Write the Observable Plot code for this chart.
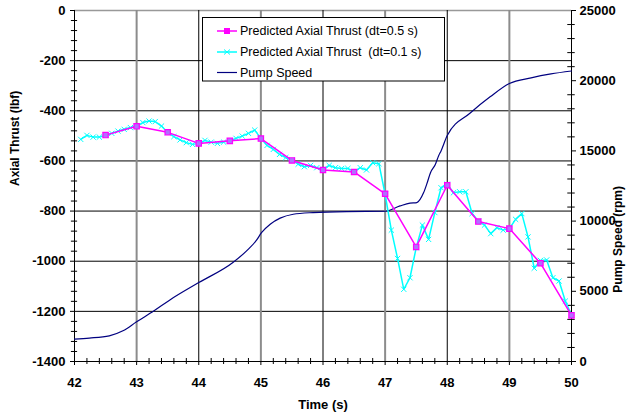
<!DOCTYPE html>
<html>
<head>
<meta charset="utf-8">
<script src="https://cdn.jsdelivr.net/npm/d3@7"></script>
<script src="https://cdn.jsdelivr.net/npm/@observablehq/plot@0.6"></script>
<style>
  html, body { margin: 0; padding: 0; background: #fff; }
  #chart { width: 630px; height: 419px; }
</style>
</head>
<body>
<div id="chart"></div>
<script>
// ---- data ----
const coarseTime = [42.5, 43, 43.5, 44, 44.5, 45, 45.5, 46, 46.5, 47, 47.5, 48, 48.5, 49, 49.5, 50];
const coarseThrust = [-497, -462, -486, -530, -520, -511, -598, -636, -644, -731, -943, -697, -842, -870, -1008, -1216];

const fineTime = [42.1, 42.2, 42.3, 42.4, 42.5, 42.6, 42.7, 42.8, 42.9, 43.0,
  43.1, 43.2, 43.3, 43.4, 43.5, 43.6, 43.7, 43.8, 43.9, 44.0,
  44.1, 44.2, 44.3, 44.4, 44.5, 44.6, 44.7, 44.8, 44.9, 45.0,
  45.1, 45.2, 45.3, 45.4, 45.5, 45.6, 45.7, 45.8, 45.9, 46.0,
  46.1, 46.2, 46.3, 46.4, 46.5, 46.6, 46.7, 46.8, 46.9, 47.0,
  47.1, 47.2, 47.3, 47.4, 47.5, 47.6, 47.7, 47.8, 47.9, 48.0,
  48.1, 48.2, 48.3, 48.4, 48.5, 48.6, 48.7, 48.8, 48.9, 49.0,
  49.1, 49.2, 49.3, 49.4, 49.5, 49.6, 49.7, 49.8, 49.9, 50.0];
const fineThrust = [-514, -498, -505, -505, -498, -490, -481, -474, -467, -461,
  -447, -441, -443, -461, -487, -503, -516, -527, -534, -530,
  -518, -525, -530, -525, -519, -510, -501, -490, -477, -510,
  -538, -554, -574, -587, -596, -613, -623, -618, -627, -634,
  -618, -627, -630, -630, -643, -627, -636, -607, -611, -733,
  -876, -989, -1112, -1066, -946, -856, -913, -806, -707, -693,
  -727, -723, -723, -810, -840, -856, -890, -866, -876, -870,
  -833, -810, -903, -1028, -997, -995, -1066, -1079, -1159, -1215];

const pumpTime = [42.0, 42.24, 42.56, 42.78, 43.0, 43.28, 43.53, 44.0, 44.55, 44.77, 44.93, 45.01, 45.15, 45.31, 45.52, 45.84, 46.38, 47.0, 47.24, 47.4, 47.51, 47.62, 47.67, 47.73, 47.81, 47.86, 47.9, 48.0, 48.37, 48.69, 49.0, 49.35, 49.67, 50.0];
const pumpRpm = [1600, 1670, 1830, 2190, 2830, 3610, 4370, 5620, 7050, 7880, 8640, 9180, 9780, 10210, 10490, 10610, 10680, 10700, 11080, 11280, 11320, 12030, 12630, 13450, 14050, 14640, 15000, 16100, 17700, 18850, 19800, 20200, 20480, 20690];

const xTicks = [42, 43, 44, 45, 46, 47, 48, 49, 50];
const yTicks = [0, -200, -400, -600, -800, -1000, -1200, -1400];
const rpmTicks = [0, 5000, 10000, 15000, 20000, 25000];

const xTitle = "Time (s)";
const yTitle = "Axial Thrust (lbf)";
const y2Title = "Pump Speed (rpm)";
const seriesNames = ["Predicted Axial Thrust (dt=0.5 s)", "Predicted Axial Thrust  (dt=0.1 s)", "Pump Speed"];
const seriesColors = ["#ff00ff", "#00ffff", "#000080"];

// ---- derived tables ----
const Y0 = -1400, Y1 = 0, R1 = 25000;
const toLeft = r => Y0 + r * (Y1 - Y0) / R1;
const fromLeft = v => (v - Y0) * R1 / (Y1 - Y0);

const coarse = coarseTime.map((t, i) => ({t, v: coarseThrust[i]}));
const fine = fineTime.map((t, i) => ({t, v: fineThrust[i]}));
const pump = pumpTime.map((t, i) => ({t, v: toLeft(pumpRpm[i])}));

const minorX = d3.range(42, 50.0001, 0.2).filter(d => Math.abs(d - Math.round(d)) > 1e-6);
const minorY = d3.range(-1400, 0.001, 40).filter(d => d % 200 !== 0);
const minorR = d3.range(0, 25001, 1000).filter(d => d % 5000 !== 0).map(toLeft);

const gridOdd = xTicks.filter(d => d % 2 === 1);
const gridEven = xTicks.filter(d => d % 2 === 0 && d !== 42 && d !== 50);

const chart = Plot.plot({
  width: 630,
  height: 419,
  marginLeft: 74,
  marginRight: 59,
  marginTop: 10,
  marginBottom: 58,
  x: {domain: [42, 50]},
  y: {domain: [Y0, Y1]},
  style: {fontFamily: "'Liberation Sans', Arial, sans-serif", fontSize: "13px", fontWeight: "bold", background: "#fff", color: "#000"},
  marks: [
    // grid
    Plot.ruleY(yTicks.filter(d => d !== 0 && d !== Y0), {stroke: "#000", strokeWidth: 1}),
    Plot.ruleY([0], {stroke: "#999", strokeWidth: 1.5}),
    Plot.ruleX(gridOdd, {stroke: "#8c8c8c", strokeWidth: 2}),
    Plot.ruleX(gridEven, {stroke: "#000", strokeWidth: 1}),
    // axis lines
    Plot.ruleX([42], {stroke: "#000"}),
    Plot.ruleX([50], {stroke: "#000"}),
    Plot.ruleY([Y0], {stroke: "#000"}),
    // minor ticks (crossing axes)
    Plot.ruleY(minorY, {x1: 42 - 0.05, x2: 42 + 0.05, stroke: "#000"}),
    Plot.ruleY(minorR, {x1: 50 - 0.06, x2: 50 + 0.06, stroke: "#000"}),
    Plot.ruleX(minorX, {y1: Y0 - 12, y2: Y0 + 12, stroke: "#000"}),
    // axes
    Plot.axisX({ticks: xTicks, tickSize: 4, tickPadding: 12, tickFormat: d => String(d), label: null}),
    Plot.axisY({anchor: "left", ticks: yTicks, tickSize: 4, tickPadding: 5, tickFormat: d => String(d), label: null}),
    Plot.axisY({anchor: "right", ticks: rpmTicks.map(toLeft), tickSize: 4, tickPadding: 4,
      tickFormat: d => String(Math.round(fromLeft(d))), label: null}),
    // axis titles
    Plot.text([xTitle], {frameAnchor: "bottom", dy: 47, text: d => d, fontWeight: "bold", fontSize: 13}),
    Plot.text([yTitle], {frameAnchor: "left", dx: -59, rotate: -90, text: d => d, fontWeight: "bold", fontSize: 12}),
    Plot.text([y2Title], {frameAnchor: "right", dx: 47, rotate: -90, text: d => d, fontWeight: "bold", fontSize: 12}),
    // data
    Plot.line(pump, {x: "t", y: "v", stroke: seriesColors[2], strokeWidth: 1.2, curve: "monotone-x"}),
    Plot.line(fine, {x: "t", y: "v", stroke: seriesColors[1], strokeWidth: 1.5}),
    Plot.dot(fine, {x: "t", y: "v", symbol: "times", r: 2.5, stroke: seriesColors[1], strokeWidth: 1}),
    Plot.line(coarse, {x: "t", y: "v", stroke: seriesColors[0], strokeWidth: 1.5}),
    Plot.dot(coarse, {x: "t", y: "v", symbol: "square", r: 3, fill: "#b070ff", stroke: seriesColors[0], strokeWidth: 1.2})
  ]
});

document.getElementById("chart").appendChild(chart);

// ---- legend inside the plot ----
const svg = d3.select(chart);
const lg = svg.append("g").attr("font-family", "'Liberation Sans', Arial, sans-serif")
  .attr("font-size", 12.5).attr("font-weight", "normal").attr("text-anchor", "start");
lg.append("rect").attr("x", 202.5).attr("y", 17.5).attr("width", 242).attr("height", 63.5)
  .attr("fill", "#fff").attr("stroke", "#000").attr("stroke-width", 1);
const rowY = [31, 52, 72.5];
seriesNames.forEach((name, i) => {
  lg.append("line").attr("x1", 217).attr("x2", 237).attr("y1", rowY[i]).attr("y2", rowY[i])
    .attr("stroke", seriesColors[i]).attr("stroke-width", i === 2 ? 1.2 : 1.5);
  if (i === 0) lg.append("rect").attr("x", 224).attr("y", rowY[i] - 3).attr("width", 6).attr("height", 6).attr("fill", seriesColors[0]);
  if (i === 1) lg.append("path").attr("d", `M${224},${rowY[i]-2.5}L${230},${rowY[i]+2.5}M${224},${rowY[i]+2.5}L${230},${rowY[i]-2.5}`).attr("stroke", seriesColors[1]).attr("fill", "none");
  lg.append("text").attr("x", 240).attr("y", rowY[i]).attr("dy", "0.35em").attr("fill", "#000")
    .attr("text-anchor", "start").text(name);
});
</script>
</body>
</html>
